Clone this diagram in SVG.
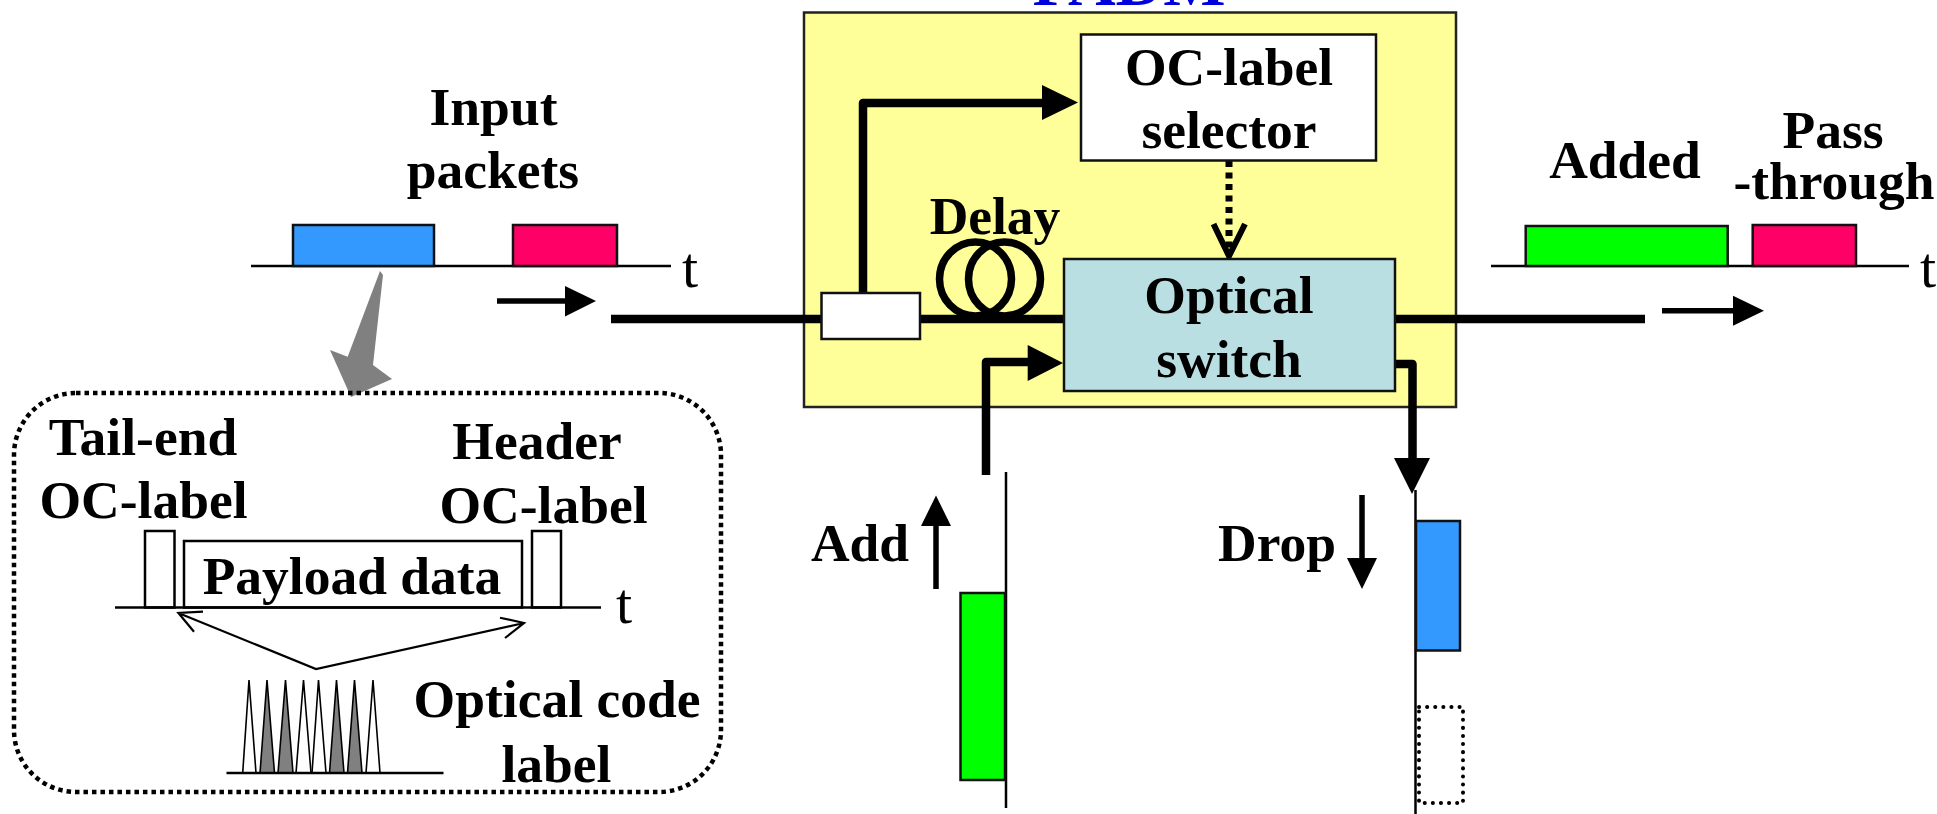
<svg xmlns="http://www.w3.org/2000/svg" width="1937" height="814" viewBox="0 0 1937 814">
<style>
text{font-family:"Liberation Serif","Times New Roman",serif;fill:#000}
.b{font-weight:700;font-size:53.5px;text-anchor:middle}
.t{font-size:58px}
.box{stroke:#111;stroke-width:2.5}
.ln{stroke:#000;stroke-width:2.5;fill:none}
.fat{stroke:#000;stroke-width:8.5;fill:none;stroke-linejoin:round}
.med{stroke:#000;stroke-width:5.5;fill:none}
.thin{stroke:#000;stroke-width:2.2;fill:none}
.tri{stroke:#000;stroke-width:1.6;fill:#fff}
.tri.g{fill:#808080}
</style>
<rect width="1937" height="814" fill="#fff"/>
<g id="padm">
<rect x="804" y="12.500" width="652" height="394.500" fill="#FFFF99" stroke="#222" stroke-width="2.500"/>
<text class="b" x="1129" y="5" style="font-size:66px;fill:#0000DD">PADM</text>
</g>
<g id="connectors">
<path class="fat" d="M611 319H821M920 319H1064M1395 319H1645"/>
<path class="fat" d="M863 293V103H1044"/>
<path d="M1042 85L1078 102.500L1042 120Z"/>
<path d="M1229 161V255" stroke="#000" stroke-width="7" stroke-dasharray="6 5.500" fill="none"/>
<path d="M1213.500 224L1229 256L1245 224" fill="none" stroke="#000" stroke-width="6"/>
<path class="fat" d="M986 475V362H1030"/>
<path d="M1027.700 345L1063 363L1027.700 381Z"/>
<path class="fat" d="M1396 364H1412.500V460"/>
<path d="M1394 458H1430L1412 494Z"/>
<path class="med" d="M497 301H567"/><path d="M565 286L596 301L565 316.500Z"/>
<path class="med" d="M1662 310.700H1735"/><path d="M1733 295.700L1764 310.700L1733 325.700Z"/>
<path class="med" d="M936 589V524"/><path d="M921 526H951L936 495.500Z"/>
<path class="med" d="M1362 495V560"/><path d="M1347 558H1377L1362 589Z"/>
<path class="thin" d="M178.400 613L316 669L524 623M203 611.700L178.400 613L194 631.700M500 617.700L524 623L505 638"/>
<polygon points="380,271 383,275 373,365 392,379 351,397 330,350 347.700,356.700" fill="#808080"/>
</g>
<g id="oc-label-selector">
<rect class="box" x="1081" y="34.500" width="295" height="126" fill="#fff"/>
<text class="b" x="1229" y="85">OC-label</text>
<text class="b" x="1229" y="148">selector</text>
</g>
<g id="optical-switch">
<rect class="box" x="1064" y="259" width="331" height="132" fill="#B9DFE2"/>
<text class="b" x="1229" y="312.500">Optical</text>
<text class="b" x="1229" y="376.500">switch</text>
</g>
<g id="coupler"><rect class="box" x="821.500" y="293" width="98.500" height="46" fill="#fff"/></g>
<g id="delay">
<text class="b" x="995" y="234">Delay</text>
<ellipse cx="975.500" cy="279" rx="36" ry="37" fill="none" stroke="#000" stroke-width="7.500"/>
<ellipse cx="1004.500" cy="279" rx="36" ry="37" fill="none" stroke="#000" stroke-width="7.500"/>
</g>
<g id="input-packets">
<text class="b" x="493.500" y="125">Input</text>
<text class="b" x="493" y="188">packets</text>
<path class="ln" d="M251 266H671"/>
<rect class="box" x="293" y="225" width="141" height="41" fill="#3399FF"/>
<rect class="box" x="513" y="225" width="104" height="41" fill="#FF0066"/>
<text class="t" x="682" y="287">t</text>
</g>
<g id="output-packets">
<text class="b" x="1625" y="178">Added</text>
<text class="b" x="1833" y="148">Pass</text>
<text class="b" x="1834" y="199">-through</text>
<path class="ln" d="M1491 266H1909"/>
<rect class="box" x="1525.700" y="226" width="202" height="40" fill="#00FF00"/>
<rect class="box" x="1752.700" y="225" width="103.300" height="41" fill="#FF0066"/>
<text class="t" x="1920" y="287">t</text>
</g>
<g id="add">
<text class="b" x="860" y="561">Add</text>
<path class="ln" d="M1006 472V808"/>
<rect class="box" x="960.500" y="593" width="44.500" height="187" fill="#00FF00"/>
</g>
<g id="drop">
<text class="b" x="1277" y="561">Drop</text>
<path class="ln" d="M1415.500 490V814"/>
<rect class="box" x="1416" y="521" width="44" height="129.500" fill="#3399FF"/>
<rect x="1419" y="707" width="44" height="96" fill="none" stroke="#000" stroke-width="4" stroke-linecap="round" stroke-dasharray="0.100 8"/>
</g>
<g id="packet-detail">
<rect x="14" y="393" width="707" height="399" rx="62" ry="62" fill="none" stroke="#000" stroke-width="4.500" stroke-dasharray="4.500 4"/>
<text class="b" x="143" y="455">Tail-end</text>
<text class="b" x="143.500" y="518">OC-label</text>
<text class="b" x="537" y="459">Header</text>
<text class="b" x="543.500" y="522.500">OC-label</text>
<path class="ln" d="M115 607.500H601"/>
<rect class="ln" x="145" y="531" width="29.500" height="76.500"/>
<rect class="ln" x="184" y="541" width="338" height="66.500"/>
<rect class="ln" x="532" y="531" width="29" height="76.500"/>
<text class="b" x="352" y="594">Payload data</text>
<text class="t" x="616" y="623">t</text>
</g>
<g id="optical-code-label">
<polygon class="tri" points="242.700,773 249,680 256,773"/>
<polygon class="tri g" points="260,773 267,680 274.500,773"/>
<polygon class="tri g" points="278,773 285.500,680 293,773"/>
<polygon class="tri" points="296,773 303.500,680 311,773"/>
<polygon class="tri" points="312,773 318.500,680 326,773"/>
<polygon class="tri g" points="329.500,773 336.500,680 344,773"/>
<polygon class="tri g" points="347.500,773 354.500,680 362,773"/>
<polygon class="tri" points="366,773 373,680 380,773"/>
<path class="ln" d="M226.500 773H443.500"/>
<text class="b" x="557" y="717">Optical code</text>
<text class="b" x="556.500" y="782">label</text>
</g>
</svg>
